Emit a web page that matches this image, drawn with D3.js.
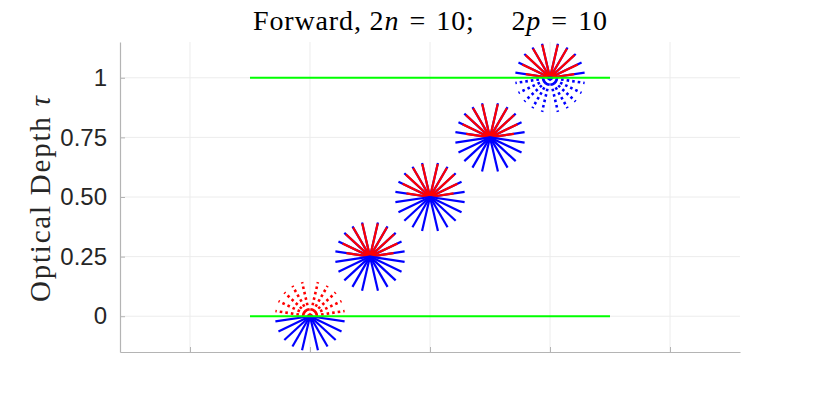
<!DOCTYPE html>
<html>
<head>
<meta charset="utf-8">
<script src="https://cdn.jsdelivr.net/npm/d3@7"></script>
<style>
  body { margin: 0; background: #fff; }
  #canvas { width: 830px; height: 395px; }
</style>
</head>
<body>
<div id="canvas" class="canvas"></div>
<script>
// data
var levels = [0, 0.25, 0.5, 0.75, 1];          // optical depth of each star
var xPos = [2, 2.5, 3, 3.5, 4];                 // horizontal position of each star
var mu = [0.1489, 0.4334, 0.6794, 0.8651, 0.9739]; // stream cosines (2n = 10)
// upward (red) ray length, fraction of full radius, per level and per mu
var upLength = [
  [1, 1, 1, 1, 1],
  [0.68, 0.87, 0.94, 0.96, 0.97],
  [0.68, 0.87, 0.94, 0.96, 0.97],
  [0.69, 0.87, 0.94, 0.96, 0.97],
  [0.70, 0.88, 0.95, 0.96, 0.97]
];
// downward (blue) ray length, fraction of full radius
var downLength = [
  [1, 1, 1, 1, 1],
  [1, 1, 1, 1, 1],
  [1, 1, 1, 1, 1],
  [1, 1, 1, 1, 1],
  [1, 1, 1, 1, 1]
];
var boundaryY = [0, 1];
var boundaryX = [1.5, 4.5];
var yTicks = [0, 0.25, 0.5, 0.75, 1];
var yTickLabels = ['0', '0.25', '0.50', '0.75', '1'];
var xTicks = [1, 2, 3, 4, 5];

// margin convention
var m = {t:42, r:90, b:43, l:120};
var outerWidth = 830, outerHeight = 395;
var w = outerWidth - m.l - m.r,
    h = outerHeight - m.t - m.b;
var R = 35; // star radius in px

var svg = d3.select('.canvas')
  .append('svg')
  .attr('width', outerWidth)
  .attr('height', outerHeight);

var plot = svg.append('g')
  .attr('transform', 'translate(' + m.l + ',' + m.t + ')');

var scaleX = d3.scaleLinear().domain([0.4167, 5.5833]).range([0, w]);
var scaleY = d3.scaleLinear().domain([-0.15, 1.15]).range([h, 0]);

// grid
plot.append('g').selectAll('line.gy')
  .data(yTicks).enter().append('line')
  .attr('x1', 0).attr('x2', w)
  .attr('y1', function(d){ return scaleY(d); })
  .attr('y2', function(d){ return scaleY(d); })
  .attr('stroke', '#ececec').attr('stroke-width', 1);
plot.append('g').selectAll('line.gx')
  .data(xTicks).enter().append('line')
  .attr('y1', 0).attr('y2', h)
  .attr('x1', function(d){ return scaleX(d); })
  .attr('x2', function(d){ return scaleX(d); })
  .attr('stroke', '#ececec').attr('stroke-width', 1);

// axes
var axisY = d3.axisLeft(scaleY)
  .tickValues(yTicks)
  .tickFormat(function(d, i){ return yTickLabels[i]; })
  .tickSizeInner(-5).tickSizeOuter(0).tickPadding(13);
var axisX = d3.axisBottom(scaleX)
  .tickValues(xTicks).tickFormat('')
  .tickSizeInner(-5).tickSizeOuter(0);

var gy = plot.append('g').call(axisY);
var gx = plot.append('g').attr('transform', 'translate(0,' + h + ')').call(axisX);
[gx, gy].forEach(function(g){
  g.select('.domain').attr('stroke', '#b4b4b4').attr('stroke-width', 1.2);
  g.selectAll('.tick line').attr('stroke', '#b4b4b4').attr('stroke-width', 1);
});
gy.selectAll('.tick text')
  .attr('font-family', '"Liberation Sans", Arial, sans-serif')
  .attr('font-size', 24)
  .attr('fill', '#262626');

// stars
function rays(i, upward){
  var out = [];
  mu.forEach(function(c, k){
    var s = Math.sqrt(1 - c * c);
    var len = upward ? upLength[i][k] : downLength[i][k];
    [-1, 1].forEach(function(side){
      out.push({dx: side * s, dy: upward ? c : -c, len: len});
    });
  });
  return out;
}

levels.forEach(function(tau, i){
  var cx = scaleX(xPos[i]), cy = scaleY(tau);
  var g = plot.append('g').attr('transform', 'translate(' + cx + ',' + cy + ')');
  var upDotted = (i === 0), downDotted = (i === levels.length - 1);

  // blue backing in the upper half
  if (!upDotted) {
    g.selectAll('line.back').data(rays(i, true)).enter().append('line')
      .attr('x1', 0).attr('y1', 0)
      .attr('x2', function(d){ return d.dx * R; })
      .attr('y2', function(d){ return -d.dy * R; })
      .attr('stroke', '#0000ff').attr('stroke-width', 2.2);
  }
  // upward (red)
  g.selectAll('line.up').data(rays(i, true)).enter().append('line')
    .attr('x1', 0).attr('y1', 0)
    .attr('x2', function(d){ return d.dx * R * d.len; })
    .attr('y2', function(d){ return -d.dy * R * d.len; })
    .attr('stroke', '#ff0000')
    .attr('stroke-width', upDotted ? 2.6 : 2.2)
    .attr('stroke-dasharray', upDotted ? '2.6,3' : null);
  // downward (blue)
  g.selectAll('line.down').data(rays(i, false)).enter().append('line')
    .attr('x1', 0).attr('y1', 0)
    .attr('x2', function(d){ return d.dx * R * d.len; })
    .attr('y2', function(d){ return -d.dy * R * d.len; })
    .attr('stroke', '#0000ff')
    .attr('stroke-width', downDotted ? 2.6 : 2.2)
    .attr('stroke-dasharray', downDotted ? '2.6,3' : null);
});

// boundaries
plot.append('g').selectAll('line.bnd')
  .data(boundaryY).enter().append('line')
  .attr('x1', scaleX(boundaryX[0])).attr('x2', scaleX(boundaryX[1]))
  .attr('y1', function(d){ return scaleY(d); })
  .attr('y2', function(d){ return scaleY(d); })
  .attr('stroke', '#00ff00').attr('stroke-width', 2);

// labels
var serif = '"Liberation Serif", "Times New Roman", serif';
var title = svg.append('text')
  .attr('x', m.l + w / 2).attr('y', 30)
  .attr('text-anchor', 'middle')
  .attr('textLength', 354).attr('lengthAdjust', 'spacing')
  .attr('font-family', serif).attr('font-size', 28).attr('fill', '#000');
title.append('tspan').text('Forward, 2');
title.append('tspan').attr('font-style', 'italic').text('n');
title.append('tspan').text('\u2004=\u200410;\u2003\u20052');
title.append('tspan').attr('font-style', 'italic').text('p');
title.append('tspan').text('\u2004=\u200410');

var ylab = svg.append('text')
  .attr('transform', 'translate(50,' + (m.t + h / 2 + 2) + ') rotate(-90)')
  .attr('text-anchor', 'middle')
  .attr('textLength', 206).attr('lengthAdjust', 'spacing')
  .attr('font-family', serif).attr('font-size', 29).attr('fill', '#262626');
ylab.append('tspan').text('Optical Depth ');
ylab.append('tspan').attr('font-style', 'italic').text('\u03c4');
</script>
</body>
</html>
